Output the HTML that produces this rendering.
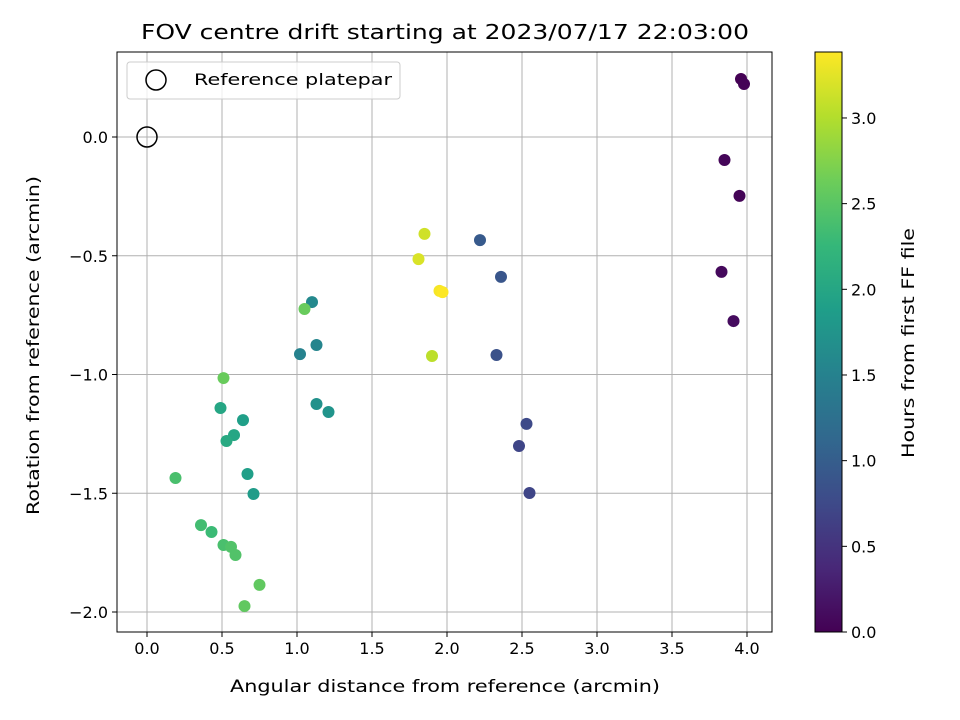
<!DOCTYPE html>
<html><head><meta charset="utf-8">
<style>
body{margin:0;background:#fff;}
svg{display:block;font-family:"DejaVu Sans","Liberation Sans",sans-serif;}
</style></head>
<body>
<svg id="chart" width="960" height="720" viewBox="0 0 960 720"></svg>
<script>
const xs=[3.96,3.98,3.85,3.95,3.83,3.91,2.22,2.36,2.33,2.53,2.48,2.55,1.10,1.13,1.02,1.13,1.21,0.49,0.64,0.58,0.53,0.67,0.71,0.51,1.05,0.19,0.36,0.43,0.51,0.56,0.59,0.65,0.75,1.85,1.81,1.95,1.97,1.90];
const ys=[0.244,0.223,-0.097,-0.248,-0.568,-0.775,-0.434,-0.589,-0.918,-1.208,-1.301,-1.499,-0.695,-0.876,-0.914,-1.124,-1.158,-1.141,-1.192,-1.255,-1.28,-1.419,-1.503,-1.015,-0.724,-1.436,-1.634,-1.663,-1.718,-1.726,-1.76,-1.975,-1.886,-0.408,-0.514,-0.648,-0.653,-0.922];
const hours=[0.0,0.02,0.05,0.03,0.08,0.1,0.95,0.9,0.85,0.75,0.7,0.7,1.6,1.55,1.5,1.7,1.75,2.0,1.9,2.0,2.05,1.9,1.85,2.6,2.6,2.4,2.35,2.3,2.4,2.45,2.45,2.55,2.55,3.15,3.2,3.35,3.38,3.05];
const xTicks=[0,0.5,1,1.5,2,2.5,3,3.5,4];
const yTicks=[0,-0.5,-1,-1.5,-2];
const cTicks=[0,0.5,1,1.5,2,2.5,3];
const L=117,R=772,T=52,B=632;
const X=v=>147+v*150, Y=v=>137-v*237.5;
const cMax=3.385, C=v=>632-v/cMax*580;
const vir=[[68,1,84],[72,40,120],[62,74,137],[49,104,142],[38,130,142],[31,158,137],[53,183,121],[109,205,89],[180,222,44],[253,231,37]];
function col(h){let t=Math.max(0,Math.min(1,h/cMax))*9,i=Math.min(8,Math.floor(t)),f=t-i;
 const c=vir[i].map((a,k)=>Math.round(a+(vir[i+1][k]-a)*f));return `rgb(${c})`;}
const svg=document.getElementById('chart');const NS='http://www.w3.org/2000/svg';
function el(tag,attrs,txt){const e=document.createElementNS(NS,tag);for(const k in attrs)e.setAttribute(k,attrs[k]);if(txt!=null)e.textContent=txt;svg.appendChild(e);return e;}
let e;
xTicks.forEach(v=>{e=el('line',{x1:X(v),x2:X(v),y1:T,y2:B,stroke:'#b0b0b0','stroke-width':1});

e=el('line',{x1:X(v),x2:X(v),y1:B,y2:B+5,stroke:'#000'});
e=el('text',{x:X(v),y:B+22,'text-anchor':'middle','font-size':'16'},v.toFixed(1));
});
yTicks.forEach(v=>{e=el('line',{x1:L,x2:R,y1:Y(v),y2:Y(v),stroke:'#b0b0b0','stroke-width':1});

el('line',{x1:L-5,x2:L,y1:Y(v),y2:Y(v),stroke:'#000'});
e=el('text',{x:L-9,y:Y(v)+6,'text-anchor':'end','font-size':'16'},(v<0?'\u2212':'')+Math.abs(v).toFixed(1));
});
e=el('circle',{cx:X(0),cy:Y(0),r:10,fill:'none',stroke:'#000','stroke-width':1.5});

xs.forEach((x,i)=>{e=el('circle',{cx:X(x),cy:Y(ys[i]),r:6,fill:col(hours[i])});
});
e=el('rect',{x:L,y:T,width:R-L,height:B-T,fill:'none',stroke:'#000','stroke-width':1});

e=el('rect',{x:127,y:62,width:273,height:37,rx:3,fill:'#fff','fill-opacity':0.8,stroke:'#ccc'});

el('circle',{cx:156,cy:80,r:10,fill:'none',stroke:'#000','stroke-width':1.5});
e=el('text',{x:194,y:85,'font-size':'16',textLength:198,lengthAdjust:'spacingAndGlyphs'},'Reference platepar');

e=el('text',{x:141,y:39,'font-size':'20',textLength:608,lengthAdjust:'spacingAndGlyphs'},'FOV centre drift starting at 2023/07/17 22:03:00');

e=el('text',{x:230,y:692,'font-size':'17',textLength:430,lengthAdjust:'spacingAndGlyphs'},'Angular distance from reference (arcmin)');

e=el('text',{x:-170,y:0,'font-size':'17',textLength:339,lengthAdjust:'spacingAndGlyphs',transform:'translate(39,345) rotate(-90)'},'Rotation from reference (arcmin)');

const defs=el('defs',{});const g=document.createElementNS(NS,'linearGradient');g.setAttribute('id','vg');g.setAttribute('x1','0');g.setAttribute('y1','1');g.setAttribute('x2','0');g.setAttribute('y2','0');
vir.forEach((c,i)=>{const s=document.createElementNS(NS,'stop');s.setAttribute('offset',i/9);s.setAttribute('stop-color',`rgb(${c})`);g.appendChild(s);});
defs.appendChild(g);
e=el('rect',{x:815,y:T,width:27,height:B-T,fill:'url(#vg)',stroke:'#000'});

cTicks.forEach(v=>{el('line',{x1:842,x2:847,y1:C(v),y2:C(v),stroke:'#000'});
e=el('text',{x:851,y:C(v)+6,'font-size':'16'},v.toFixed(1));
});
e=el('text',{x:-115,y:0,'font-size':'17',textLength:230,lengthAdjust:'spacingAndGlyphs',transform:'translate(914,343) rotate(-90)'},'Hours from first FF file');

</script>
</body></html>
